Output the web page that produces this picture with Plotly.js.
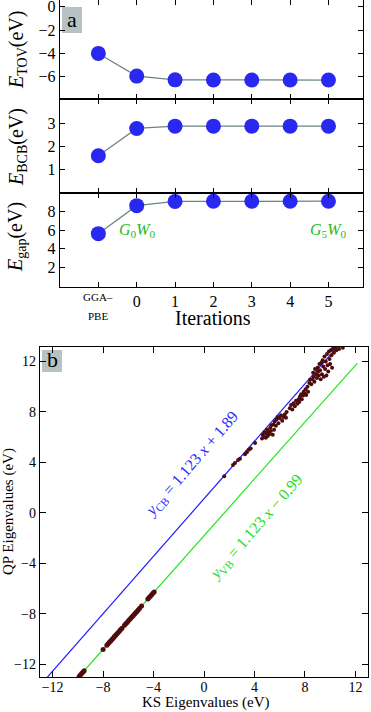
<!DOCTYPE html>
<html><head><meta charset="utf-8">
<script src="https://cdn.plot.ly/plotly-3.0.1.min.js"></script>
<style>html,body{margin:0;padding:0;background:#fff}#c{width:371px;height:712px}</style>
</head><body><div id="c"></div>
<script>
// ---- Panel a data ----
var iterX = [-1, 0, 1, 2, 3, 4, 5];
var iterTickLabels = ['', '0', '1', '2', '3', '4', '5'];
var firstTickLines = ['GGA–', 'PBE'];
var eTOV = [-4.0, -5.94, -6.26, -6.28, -6.28, -6.28, -6.28];
var eBCB = [1.58, 2.78, 2.88, 2.88, 2.88, 2.88, 2.88];
var eGap = [5.63, 8.64, 9.1, 9.12, 9.12, 9.12, 9.12];

// ---- Panel b data ----
var fitCBx = [-12.45, 10.65];
var fitCBy = [-13.05, 13.25];
var fitVBx = [-9.94, 12.14];
var fitVBy = [-13.0, 11.86];
var vbX = [-9.9,-9.8,-9.7,-9.6,-9.5,-8.0,-7.7,-7.6,-7.5,-7.4,-7.3,-7.2,-7.1,-7.0,-6.9,-6.8,-6.7,-6.6,-6.5,
           -6.3,-6.2,-6.1,-6.0,-5.9,-5.8,-5.7,-5.6,-5.5,-5.4,-5.3,-5.2,-5.1,-4.95,-4.45,-4.35,-4.25,-4.15,-4.05,-3.95];
var vbY = [-12.96,-12.84,-12.73,-12.62,-12.51,-10.82,-10.48,-10.37,-10.25,-10.14,-10.03,-9.92,-9.80,-9.69,-9.58,-9.47,-9.35,-9.24,-9.13,
           -8.90,-8.79,-8.68,-8.57,-8.45,-8.34,-8.23,-8.12,-8.00,-7.89,-7.78,-7.67,-7.55,-7.38,-6.82,-6.71,-6.60,-6.48,-6.37,-6.26];
var cbX = [1.6,2.3,2.45,2.7,2.85,3.25,3.4,3.55,3.7,4.05,4.6,4.65,4.75,4.8,4.9,4.95,5.0,5.05,5.1,5.2,5.25,5.3,5.35,5.45,5.5,5.55,5.6,5.7,5.75,5.85,5.9,6.0,6.1,6.2,6.3,6.4,6.5,6.55,6.8,6.9,7.0,7.1,7.2,7.3,7.4,7.5,7.55,7.6,7.7,7.75,7.85,7.9,8.0,8.05,8.1,8.2,8.25,8.35,8.4,8.5,8.6,8.65,8.7,8.75,8.8,8.9,8.95,9.0,9.05,9.1,9.15,9.2,9.25,9.3,9.35,9.4,9.45,9.5,9.55,9.6,9.65,9.7,9.75,9.8,9.85,9.9,9.95,10.0,10.05,10.1,10.15,10.2,10.3,10.4,10.5,10.7,11.0];
var cbY = [2.9,3.8,3.95,4.2,4.3,4.65,4.8,5.0,5.1,5.55,5.9,6.2,6.05,6.4,5.95,6.3,6.6,6.1,6.45,6.25,6.75,6.5,6.95,6.2,7.0,6.6,7.25,6.9,7.4,7.6,7.1,7.5,7.75,7.3,7.6,7.8,7.55,8.0,8.3,8.55,8.2,8.7,8.45,8.9,8.65,9.0,8.8,9.2,9.4,9.0,9.3,9.6,9.45,9.8,9.35,10.0,9.6,10.3,10.55,10.2,10.6,11.1,10.8,10.4,11.4,11.0,10.7,11.5,11.2,10.9,11.8,11.3,10.6,11.9,11.0,12.1,11.6,10.8,12.4,11.4,12.0,10.9,12.6,11.7,11.2,12.8,12.2,11.8,12.9,12.5,11.5,13.0,12.7,13.1,12.9,13.0,13.1];

var SERIF = 'Liberation Serif, Times New Roman, serif';
var dotBlue = 'rgb(40,40,240)';
var lineGray = 'rgb(110,130,130)';

function ptTrace(y, ya, xa) {
  return {x: iterX, y: y, xaxis: xa, yaxis: ya, type: 'scatter', mode: 'lines+markers',
    line: {color: lineGray, width: 1.2},
    marker: {color: dotBlue, size: 15}, showlegend: false, cliponaxis: false};
}
var traces = [
  ptTrace(eTOV, 'y', 'x'),
  ptTrace(eBCB, 'y2', 'x2'),
  ptTrace(eGap, 'y3', 'x3'),
  {x: fitCBx, y: fitCBy, xaxis: 'x4', yaxis: 'y4', mode: 'lines', line: {color: 'rgb(30,30,255)', width: 1.2}, showlegend: false},
  {x: fitVBx, y: fitVBy, xaxis: 'x4', yaxis: 'y4', mode: 'lines', line: {color: 'rgb(30,230,30)', width: 1.2}, showlegend: false},
  {x: vbX, y: vbY, xaxis: 'x4', yaxis: 'y4', mode: 'markers', marker: {color: 'rgb(80,12,12)', size: 5}, showlegend: false},
  {x: cbX, y: cbY, xaxis: 'x4', yaxis: 'y4', mode: 'markers', marker: {color: 'rgb(80,12,12)', size: 4}, showlegend: false}
];

var W = 371, H = 712;
function px(v) { return v / W; }
function py(v) { return 1 - v / H; }
var xa = [px(60), px(363)];

function iterAxis(anchor, labels) {
  return {domain: xa, anchor: anchor, range: [-2, 5.9], tickvals: iterX, ticktext: iterTickLabels,
    showticklabels: labels, ticks: 'inside', ticklen: 5, tickcolor: '#000', tickwidth: 1,
    showline: true, linecolor: '#000', linewidth: 1.3, mirror: 'ticks', showgrid: false, zeroline: false,
    ticklabelstandoff: -1,
    tickfont: {family: SERIF, size: 16, color: '#000'}};
}
function valAxis(dom, rng, tv, anchor) {
  return {domain: dom, anchor: anchor, range: rng, tickvals: tv, ticks: 'inside', ticklen: 5, tickcolor: '#000',
    showline: true, linecolor: '#000', linewidth: 1.3, mirror: 'ticks', showgrid: false, zeroline: false,
    ticklabeloverflow: 'allow',
    tickfont: {family: SERIF, size: 16, color: '#000'}};
}
function ann(o) { o.xanchor = o.xanchor || 'center'; o.yanchor = o.yanchor || 'middle'; o.showarrow = false; return o; }

var layout = {
  width: W, height: H, margin: {l: 0, r: 0, t: 0, b: 0}, paper_bgcolor: '#fff', plot_bgcolor: '#fff',
  font: {family: SERIF, color: '#000'},
  xaxis: iterAxis('y', false),
  xaxis2: iterAxis('y2', false),
  xaxis3: iterAxis('y3', true),
  yaxis: valAxis([py(99), py(0)], [-7.9, 0.57], [0, -2, -4, -6], 'x'),
  yaxis2: valAxis([py(193), py(99)], [-0.05, 4.07], [1, 2, 3], 'x2'),
  yaxis3: valAxis([py(287), py(193)], [-0.1, 10.0], [2, 4, 6, 8], 'x3'),
  xaxis4: {domain: [px(40), px(368)], anchor: 'y4', range: [-13, 13], dtick: 4, tick0: 0, ticks: 'inside', ticklen: 6,
    tickcolor: '#000', showline: true, linecolor: '#000', linewidth: 1.3, mirror: 'ticks', showgrid: false, zeroline: false,
    ticklabelstandoff: -3,
    tickfont: {family: SERIF, size: 14, color: '#000'}},
  yaxis4: {domain: [py(677), py(347)], anchor: 'x4', range: [-13, 13.15], dtick: 4, tick0: 0, ticks: 'inside', ticklen: 6,
    tickcolor: '#000', showline: true, linecolor: '#000', linewidth: 1.3, mirror: 'ticks', showgrid: false, zeroline: false,
    tickfont: {family: SERIF, size: 14, color: '#000'}},
  shapes: [
    {type: 'rect', xref: 'paper', yref: 'paper', x0: px(62), x1: px(82), y0: py(33), y1: py(7), fillcolor: 'rgb(185,194,194)', line: {width: 0}, layer: 'below'},
    {type: 'rect', xref: 'paper', yref: 'paper', x0: px(42), x1: px(62), y0: py(372), y1: py(350), fillcolor: 'rgb(185,194,194)', line: {width: 0}, layer: 'below'}
  ],
  annotations: [
    ann({xref: 'paper', yref: 'paper', x: px(72), y: py(19), text: 'a', font: {family: SERIF, size: 22, color: '#000'}}),
    ann({xref: 'paper', yref: 'paper', x: px(52), y: py(359), text: 'b', font: {family: SERIF, size: 22, color: '#000'}}),
    ann({xref: 'paper', yref: 'paper', x: px(17), y: py(50), textangle: -90, text: '<i>E</i><sub>TOV</sub>(eV)', font: {family: SERIF, size: 20, color: '#000'}}),
    ann({xref: 'paper', yref: 'paper', x: px(17), y: py(147), textangle: -90, text: '<i>E</i><sub>BCB</sub>(eV)', font: {family: SERIF, size: 20, color: '#000'}}),
    ann({xref: 'paper', yref: 'paper', x: px(17), y: py(237), textangle: -90, text: '<i>E</i><sub>gap</sub>(eV)', font: {family: SERIF, size: 20, color: '#000'}}),
    ann({xref: 'x3', yref: 'paper', x: iterX[0], y: py(297), text: firstTickLines[0], font: {family: SERIF, size: 11, color: '#000'}}),
    ann({xref: 'x3', yref: 'paper', x: iterX[0], y: py(316), text: firstTickLines[1], font: {family: SERIF, size: 11, color: '#000'}}),
    ann({xref: 'paper', yref: 'paper', x: px(213), y: py(318), text: 'Iterations', font: {family: SERIF, size: 20, color: '#000'}}),
    ann({xref: 'x3', yref: 'y3', x: 0, y: 6.0, text: '<i>G</i><sub>0</sub><i>W</i><sub>0</sub>', font: {family: SERIF, size: 16, color: 'rgb(40,185,40)'}}),
    ann({xref: 'x3', yref: 'y3', x: 5, y: 6.0, text: '<i>G</i><sub>5</sub><i>W</i><sub>0</sub>', font: {family: SERIF, size: 16, color: 'rgb(40,185,40)'}}),
    ann({xref: 'paper', yref: 'paper', x: px(8), y: py(512), textangle: -90, text: 'QP Eigenvalues (eV)', font: {family: SERIF, size: 15, color: '#000'}}),
    ann({xref: 'paper', yref: 'paper', x: px(205), y: py(702), text: 'KS Eigenvalues (eV)', font: {family: SERIF, size: 15, color: '#000'}}),
    ann({xref: 'paper', yref: 'paper', x: px(192), y: py(465), textangle: -49, text: '<i>y</i><sub>CB</sub> = 1.123 <i>x</i> + 1.89', font: {family: SERIF, size: 16, color: 'rgb(40,40,255)'}}),
    ann({xref: 'paper', yref: 'paper', x: px(256), y: py(527), textangle: -49, text: '<i>y</i><sub>VB</sub> = 1.123 <i>x</i> − 0.99', font: {family: SERIF, size: 16, color: 'rgb(30,220,30)'}})
  ]
};
Plotly.newPlot('c', traces, layout, {staticPlot: true, displayModeBar: false});
</script></body></html>
